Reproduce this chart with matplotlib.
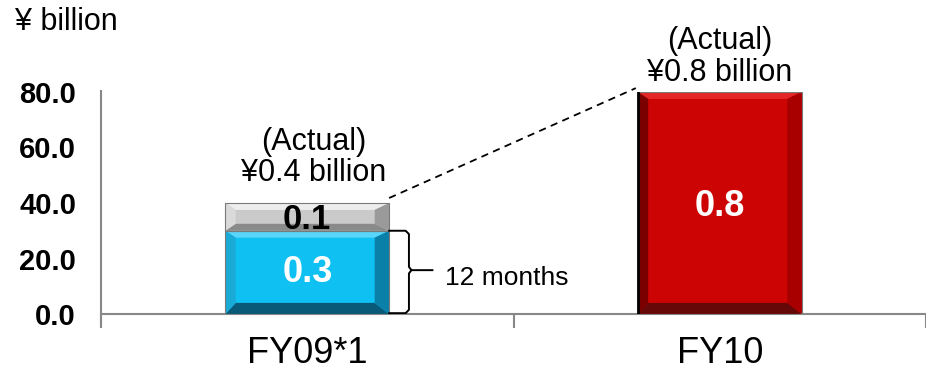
import matplotlib
matplotlib.use("Agg")
import matplotlib.pyplot as plt
from matplotlib.patches import Polygon
import numpy as np

plt.rcParams['font.family'] = ['Liberation Sans', 'DejaVu Sans']

categories = ["FY09*1", "FY10"]
base_values = [30.0, 80.0]     # blue (FY09 12 months) / red (FY10)
extra_values = [10.0, 0.0]     # gray top segment for FY09
base_labels = ["0.3", "0.8"]
extra_labels = ["0.1", ""]
actual_labels = ["(Actual)\n¥0.4 billion", "(Actual)\n¥0.8 billion"]
yticks = [0, 20, 40, 60, 80]
ytick_labels = ["0.0", "20.0", "40.0", "60.0", "80.0"]

fig = plt.figure(figsize=(9.26, 3.74), dpi=100)
ax = fig.add_axes([101/926, 60/374, 1 - 101/926, (314-92)/374])
ax.set_xlim(-0.5, 1.474)
ax.set_ylim(0, 80)

x = np.arange(len(categories))
width = 0.397

palettes = {
    "blue": dict(face="#0FC0F2", top="#5AD6FA", bottom="#085A78", left="#1AAAD6", right="#0A7FA8"),
    "gray": dict(face="#CACACA", top="#EDEDED", bottom="#8A8A8A", left="#DADADA", right="#9A9A9A"),
    "red":  dict(face="#CC0404", top="#E42626", bottom="#660808", left="#7A0000", right="#A80000"),
}

def bevel(ax, xc, bottom, height, w, pal, dxl=0.025, dxr=0.035, dyt=2.5, dyb=4.0):
    x0, x1 = xc - w/2, xc + w/2
    y0, y1 = bottom, bottom + height
    dyt = min(dyt, height/4)
    dyb = min(dyb, height/4)
    ax.bar(xc, height, w, bottom=bottom, color=pal["face"], edgecolor="none", zorder=2)
    polys = [
        ([(x0, y1), (x1, y1), (x1-dxr, y1-dyt), (x0+dxl, y1-dyt)], pal["top"]),
        ([(x0, y0), (x1, y0), (x1-dxr, y0+dyb), (x0+dxl, y0+dyb)], pal["bottom"]),
        ([(x0, y0), (x0, y1), (x0+dxl, y1-dyt), (x0+dxl, y0+dyb)], pal["left"]),
        ([(x1, y0), (x1, y1), (x1-dxr, y1-dyt), (x1-dxr, y0+dyb)], pal["right"]),
    ]
    for pts, c in polys:
        ax.add_patch(Polygon(pts, closed=True, facecolor=c, edgecolor="none", zorder=3))
    ax.add_patch(plt.Rectangle((x0, y0), w, height, fill=False, edgecolor="#7a7a7a", lw=0.8, zorder=4))

# FY09 stacked
bevel(ax, x[0], 0, base_values[0], width, palettes["blue"])
bevel(ax, x[0], base_values[0], extra_values[0], width, palettes["gray"])
# FY10
bevel(ax, x[1], 0, base_values[1], width, palettes["red"])
ax.plot([x[1]-width/2, x[1]-width/2], [0, base_values[1]], color="black", lw=2, zorder=5)

# value labels
ax.text(x[0], base_values[0]/2, base_labels[0], ha="center", va="center", color="white",
        fontsize=26, fontweight="bold", zorder=6)
ax.text(x[0], base_values[0] + extra_values[0]/2 - 1, extra_labels[0], ha="center", va="center",
        color="black", fontsize=25, fontweight="bold", zorder=6)
ax.text(x[1], base_values[1]/2 - 1.3, base_labels[1], ha="center", va="center", color="white",
        fontsize=26, fontweight="bold", zorder=6)

# actual annotations
tot0 = base_values[0] + extra_values[0]
ax.text(x[0] + 0.015, tot0 + 5.4, actual_labels[0], ha="center", va="bottom", fontsize=22,
        linespacing=1.05)
ax.text(x[1], base_values[1] + 1.4, actual_labels[1], ha="center", va="bottom", fontsize=22,
        linespacing=1.08, clip_on=False)

# dashed connector
ax.plot([x[0]+width/2, x[1]-width/2 - 0.005], [tot0 + 1.8, base_values[1] + 1.4], ls=(0, (4, 3)),
        color="black", lw=1.3, zorder=5, clip_on=False)

# brace for 12 months
bx = x[0] + width/2
ym = base_values[0] / 2 + 0.8
vx = bx + 0.048
ax.plot([bx, vx - 0.008, vx, vx, vx + 0.006, bx + 0.105], [30, 30, 28.8, ym + 1.2, ym, ym],
        color="black", lw=1.4, zorder=5)
ax.plot([bx, vx - 0.008, vx, vx, vx + 0.006], [0.3, 0.3, 1.5, ym - 1.2, ym],
        color="black", lw=1.4, zorder=5)
ax.text(bx + 0.136, 13.1, "12 months", ha="left", va="center", fontsize=19)

# axes styling
for s in ["top", "right"]:
    ax.spines[s].set_visible(False)
ax.spines["left"].set_color("#888888")
ax.spines["bottom"].set_color("#888888")
ax.spines["left"].set_linewidth(1.5)
ax.spines["bottom"].set_linewidth(1.5)
ax.spines["left"].set_bounds(-3.5, 80.5)
ax.spines["left"].set_zorder(1)
ax.set_yticks(yticks)
ax.set_yticklabels(ytick_labels, fontsize=21, fontweight="bold")
ax.tick_params(axis="y", length=0, pad=18)
ax.set_xticks([-0.5, 0.5, 1.5])
ax.set_xticklabels(["", "", ""])
ax.tick_params(axis="x", length=10, width=1.5, color="#888888", direction="out")
ax.set_xticks(x, minor=True)
ax.set_xticklabels(categories, minor=True, fontsize=26)
ax.tick_params(axis="x", which="minor", length=0, pad=16)

fig.text(15/926, 1 - 22/374, "¥ billion", ha="left", va="center", fontsize=22)

fig.savefig("out.png", dpi=100)
